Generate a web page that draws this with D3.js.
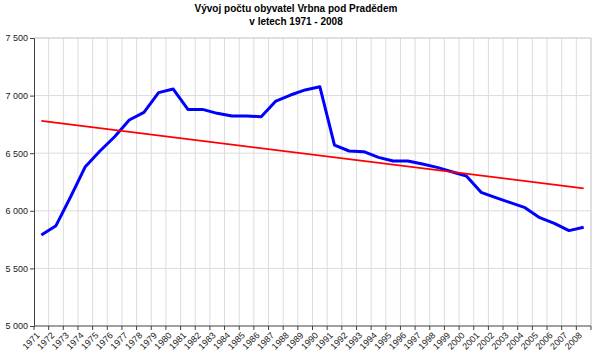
<!DOCTYPE html>
<html>
<head>
<meta charset="utf-8">
<script src="https://cdn.jsdelivr.net/npm/d3@7"></script>
<style>
  body { margin: 0; background: #fff; }
  svg { font-family: "Liberation Sans", Arial, sans-serif; }
</style>
</head>
<body>
<svg width="600" height="359"></svg>
<script>
const years = d3.range(1971, 2009)
const population = [5790, 5871, 6122, 6383, 6519, 6643, 6788, 6855, 7026, 7057,
  6880, 6880, 6846, 6823, 6823, 6817, 6953, 7005, 7049, 7077,
  6571, 6519, 6513, 6464, 6432, 6432, 6406, 6377, 6339, 6302,
  6160, 6114, 6071, 6027, 5940, 5891, 5828, 5857]
// trend line end points (1971 and 2008)
const trendYears = [1971, 2008]
const trendValues = [6780, 6195]
const yTicks = [5000, 5500, 6000, 6500, 7000, 7500]
const titleLines = ["Vývoj počtu obyvatel Vrbna pod Pradědem", "v letech 1971 - 2008"]

var svg = d3.select("svg")
var mLeft = 34, mRight = 591, mTop = 38, mBottom = 326

var x = d3.scaleBand().domain(years).range([mLeft, mRight])
var y = d3.scaleLinear().domain([5000, 7500]).range([mBottom, mTop])
var fmt = d3.formatLocale({decimal: ",", thousands: " ", grouping: [3], currency: ["", ""]}).format(",")

// vertical gridlines on category boundaries
var bounds = years.map(d => x(d)).concat([mRight])
svg.append("g").selectAll("line")
  .data(bounds.slice(1))
  .enter().append("line")
  .attr("x1", d => d).attr("x2", d => d)
  .attr("y1", mTop).attr("y2", mBottom)
  .attr("stroke", d => d === mRight ? "#c0c0c0" : "#dcdcdc")

// horizontal gridlines
svg.append("g").selectAll("line")
  .data(yTicks.slice(1))
  .enter().append("line")
  .attr("x1", mLeft).attr("x2", mRight)
  .attr("y1", d => y(d)).attr("y2", d => y(d))
  .attr("stroke", d => d === 7500 ? "#c0c0c0" : "#dcdcdc")

// y axis
var yAxis = svg.append("g")
  .attr("transform", "translate(" + mLeft + ",0)")
  .call(d3.axisLeft(y).tickValues(yTicks).tickFormat(fmt).tickSize(4).tickPadding(2))
yAxis.select(".domain").attr("stroke", "#404040")
yAxis.selectAll(".tick line").attr("stroke", "#404040")
yAxis.selectAll("text").attr("font-size", "9px").attr("fill", "#222").attr("font-family", "Liberation Sans, Arial")

// x axis
var xg = svg.append("g")
xg.append("line")
  .attr("x1", mLeft).attr("x2", mRight)
  .attr("y1", mBottom).attr("y2", mBottom)
  .attr("stroke", "#404040")
xg.selectAll(".tk")
  .data(bounds)
  .enter().append("line")
  .attr("x1", d => d).attr("x2", d => d)
  .attr("y1", mBottom).attr("y2", mBottom + 4)
  .attr("stroke", "#404040")
xg.selectAll("text")
  .data(years)
  .enter().append("text")
  .attr("text-anchor", "end")
  .attr("font-size", "9px")
  .attr("fill", "#222")
  .attr("transform", d => "translate(" + (x(d) + x.bandwidth() / 2 - 1) + "," + (mBottom + 10) + ") rotate(-45)")
  .text(d => d)

var cx = d => x(d) + x.bandwidth() / 2

// population line
svg.append("path")
  .datum(years.map((d, i) => [d, population[i]]))
  .attr("fill", "none")
  .attr("stroke", "#0000ff")
  .attr("stroke-width", 3)
  .attr("stroke-linejoin", "round")
  .attr("d", d3.line().x(d => cx(d[0])).y(d => y(d[1])))

// trend line
svg.append("path")
  .datum(trendYears.map((d, i) => [d, trendValues[i]]))
  .attr("fill", "none")
  .attr("stroke", "#ff0000")
  .attr("stroke-width", 1.8)
  .attr("d", d3.line().x(d => cx(d[0])).y(d => y(d[1])))

// title
svg.append("g").selectAll("text")
  .data(titleLines)
  .enter().append("text")
  .attr("x", 296)
  .attr("y", (d, i) => 12 + i * 13)
  .attr("text-anchor", "middle")
  .attr("font-size", "10px")
  .attr("font-weight", "bold")
  .text(d => d)
</script>
</body>
</html>
